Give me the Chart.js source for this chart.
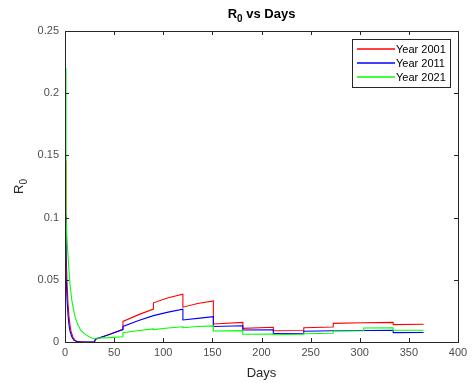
<!DOCTYPE html>
<html>
<head>
<meta charset="utf-8">
<script src="https://cdn.jsdelivr.net/npm/chart.js@4"></script>
<style>
  html, body { margin: 0; padding: 0; background: #fff; }
  #wrap { width: 472px; height: 383px; }
</style>
</head>
<body>
<div id="wrap"><canvas id="r0Chart" width="472" height="383"></canvas></div>
<script>
// values
const seriesNames = ['Year 2001', 'Year 2011', 'Year 2021'];

const days2001 = [0, 1, 2, 3, 4, 5, 6, 8, 10, 13, 20, 30, 31, 45, 59, 59, 75, 90, 90, 105, 120, 120, 135, 151, 151, 181, 181, 212, 212, 243, 243, 273, 273, 304, 334, 334, 365];
const r2001 = [0.146, 0.075, 0.05, 0.032, 0.021, 0.014, 0.009, 0.004, 0.0015, 0.0003, 0, 0, 0.0022, 0.006, 0.0102, 0.0165, 0.022, 0.0265, 0.0315, 0.0355, 0.0385, 0.028, 0.031, 0.033, 0.0145, 0.0158, 0.011, 0.0118, 0.009, 0.0093, 0.0115, 0.012, 0.015, 0.0155, 0.0158, 0.014, 0.0143];

const days2011 = [0, 1, 2, 3, 4, 5, 7, 9, 12, 15, 30, 31, 45, 59, 59, 75, 90, 105, 120, 120, 135, 151, 151, 181, 181, 212, 212, 243, 243, 273, 304, 334, 334, 365];
const r2011 = [0.102, 0.055, 0.035, 0.022, 0.014, 0.009, 0.004, 0.0015, 0.0003, 0, 0, 0.0022, 0.006, 0.0100, 0.0125, 0.0172, 0.0212, 0.024, 0.0263, 0.0177, 0.019, 0.0204, 0.0125, 0.0131, 0.0097, 0.0098, 0.0068, 0.007, 0.0086, 0.009, 0.0093, 0.0095, 0.0075, 0.0076];

const days2021 = [0, 1, 2, 3, 5, 7, 10, 13, 16, 20, 25, 30, 31, 45, 59, 59, 75, 90, 90, 105, 120, 120, 135, 151, 151, 181, 181, 212, 212, 243, 243, 273, 273, 304, 304, 334, 334, 365];
const r2021 = [0.22, 0.10, 0.083, 0.07, 0.047, 0.033, 0.021, 0.014, 0.0095, 0.0065, 0.004, 0.0025, 0.003, 0.0035, 0.0042, 0.0075, 0.0092, 0.0105, 0.0100, 0.0113, 0.0122, 0.0115, 0.0124, 0.013, 0.0088, 0.0091, 0.0062, 0.0064, 0.0058, 0.0062, 0.0066, 0.007, 0.0088, 0.0091, 0.0113, 0.0115, 0.0094, 0.0095];

const xTicks = [0, 50, 100, 150, 200, 250, 300, 350, 400];
const yTicks = [0, 0.05, 0.1, 0.15, 0.2, 0.25];

const lineColors = ['#ff0000', '#0000ff', '#00ff00'];

function toPoints(xs, ys) {
    return xs.map(function (x, i) { return { x: x, y: ys[i] }; });
}

const axisGrey = '#262626';
const labelGrey = '#4d4d4d';
const fontFam = '"Liberation Sans", Arial, sans-serif';

// box, inward ticks, title with subscript, axis titles and legend
const matlabLook = {
    id: 'matlabLook',
    afterDraw: function (chart) {
        const c = chart.ctx;
        const a = chart.chartArea;
        const xs = chart.scales.x;
        const ys = chart.scales.y;
        c.save();
        c.globalAlpha = 1;
        c.setLineDash([]);
        c.strokeStyle = axisGrey;
        c.lineWidth = 1;
        c.strokeRect(Math.round(a.left) + 0.5, Math.round(a.top) + 0.5,
            Math.round(a.right - a.left), Math.round(a.bottom - a.top));

        const tl = 4;
        c.beginPath();
        xTicks.forEach(function (v) {
            const px = Math.round(xs.getPixelForValue(v)) + 0.5;
            c.moveTo(px, a.bottom); c.lineTo(px, a.bottom - tl);
            c.moveTo(px, a.top); c.lineTo(px, a.top + tl);
        });
        yTicks.forEach(function (v) {
            const py = Math.round(ys.getPixelForValue(v)) + 0.5;
            c.moveTo(a.left, py); c.lineTo(a.left + tl, py);
            c.moveTo(a.right, py); c.lineTo(a.right - tl, py);
        });
        c.stroke();

        // title R0 vs Days
        c.fillStyle = '#000';
        c.textBaseline = 'alphabetic';
        c.font = 'bold 13px ' + fontFam;
        const rW = c.measureText('R').width;
        c.font = 'bold 10px ' + fontFam;
        const subW = c.measureText('0').width;
        c.font = 'bold 13px ' + fontFam;
        const restW = c.measureText(' vs Days').width;
        const tx = (a.left + a.right) / 2 - (rW + subW + restW) / 2;
        const ty = 18;
        c.textAlign = 'left';
        c.fillText('R', tx, ty);
        c.font = 'bold 10px ' + fontFam;
        c.fillText('0', tx + rW, ty + 4);
        c.font = 'bold 13px ' + fontFam;
        c.fillText(' vs Days', tx + rW + subW, ty);

        // x title
        c.fillStyle = '#262626';
        c.font = '13px ' + fontFam;
        c.textAlign = 'center';
        c.fillText('Days', (a.left + a.right) / 2, 377);

        // y title, rotated
        c.save();
        c.translate(23, (a.top + a.bottom) / 2);
        c.rotate(-Math.PI / 2);
        c.font = '13px ' + fontFam;
        const yrW = c.measureText('R').width;
        c.font = '10px ' + fontFam;
        const ysW = c.measureText('0').width;
        c.textAlign = 'left';
        c.font = '13px ' + fontFam;
        c.fillText('R', -(yrW + ysW) / 2, 0);
        c.font = '10px ' + fontFam;
        c.fillText('0', -(yrW + ysW) / 2 + yrW, 4);
        c.restore();

        // legend box
        const lx = 352, ly = 39, lw = 98, lh = 48;
        c.fillStyle = '#fff';
        c.fillRect(lx, ly, lw, lh);
        c.strokeStyle = axisGrey;
        c.lineWidth = 1;
        c.strokeRect(lx + 0.5, ly + 0.5, lw, lh);
        c.font = '11px ' + fontFam;
        c.textAlign = 'left';
        c.textBaseline = 'middle';
        for (let i = 0; i < seriesNames.length; i++) {
            const yy = ly + 10 + i * 14;
            c.beginPath();
            c.strokeStyle = lineColors[i];
            c.lineWidth = 1.3;
            c.moveTo(lx + 5, yy);
            c.lineTo(lx + 43, yy);
            c.stroke();
            c.fillStyle = '#000';
            c.fillText(seriesNames[i], lx + 44, yy + 1);
        }
        c.restore();
    }
};

const ctx = document.getElementById('r0Chart').getContext('2d');
const r0Chart = new Chart(ctx, {
    type: 'line',
    data: {
        datasets: [
            { label: seriesNames[0], data: toPoints(days2001, r2001), borderColor: lineColors[0], order: 3 },
            { label: seriesNames[1], data: toPoints(days2011, r2011), borderColor: lineColors[1], order: 2 },
            { label: seriesNames[2], data: toPoints(days2021, r2021), borderColor: lineColors[2], order: 1 }
        ]
    },
    options: {
        responsive: false,
        animation: false,
        events: [],
        layout: { padding: { top: 31, right: 14, left: 0, bottom: 0 } },
        elements: {
            line: { borderWidth: 1.1, tension: 0 },
            point: { radius: 0 }
        },
        plugins: {
            legend: { display: false },
            title: { display: false },
            tooltip: { enabled: false }
        },
        scales: {
            x: {
                type: 'linear',
                min: 0,
                max: 400,
                grid: { display: false, drawTicks: false },
                border: { display: false },
                afterFit: function (s) { s.height = 41; },
                afterBuildTicks: function (s) { s.ticks = xTicks.map(function (v) { return { value: v }; }); },
                ticks: {
                    color: labelGrey,
                    font: { family: fontFam, size: 11 },
                    padding: 4,
                    maxRotation: 0
                }
            },
            y: {
                min: 0,
                max: 0.25,
                grid: { display: false, drawTicks: false },
                border: { display: false },
                afterFit: function (s) { s.width = 65; },
                afterBuildTicks: function (s) { s.ticks = yTicks.map(function (v) { return { value: v }; }); },
                ticks: {
                    color: labelGrey,
                    font: { family: fontFam, size: 11 },
                    padding: 6,
                    callback: function (v) { return String(Number(v.toFixed(2))); }
                }
            }
        }
    },
    plugins: [matlabLook]
});
</script>
</body>
</html>
